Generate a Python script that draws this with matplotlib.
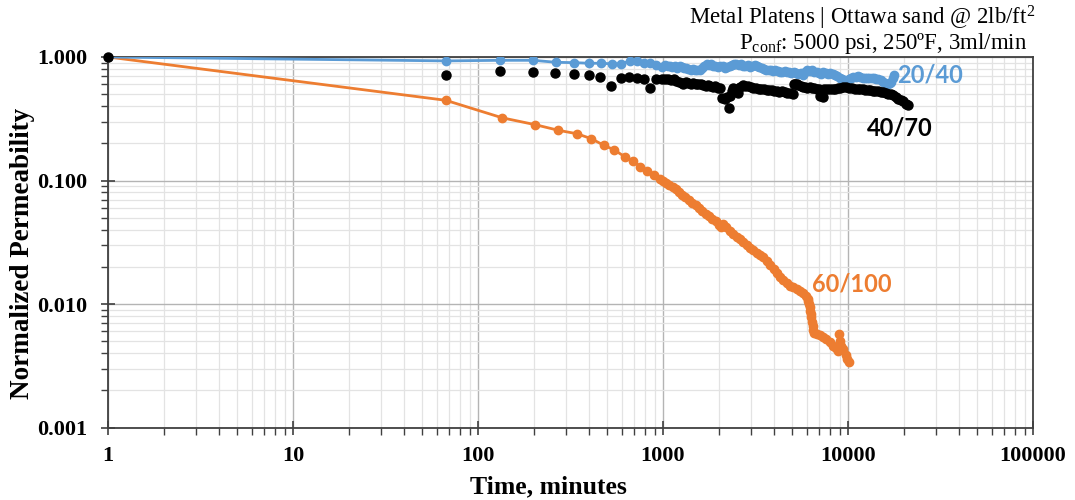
import matplotlib as mpl
mpl.use('Agg')
import matplotlib.pyplot as plt
from matplotlib.ticker import LogLocator, FixedLocator, FixedFormatter, NullFormatter

plt.rcParams['mathtext.fontset'] = 'custom'
plt.rcParams['mathtext.rm'] = 'Liberation Serif'
plt.rcParams['mathtext.it'] = 'Liberation Serif:italic'
plt.rcParams['mathtext.bf'] = 'Liberation Serif:bold'

# 20/40 sand (blue)
t_2040 = [1, 67, 132, 199, 264, 332, 398, 464, 530, 590, 661, 726, 787, 851, 917, 991,
          1030, 1060, 1090, 1120, 1160, 1190, 1230, 1260, 1300, 1330, 1370, 1410, 1450, 1490,
          1530, 1580, 1620, 1670, 1720, 1770, 1820, 1870, 1920, 1980, 2040, 2100, 2160, 2220,
          2290, 2350, 2420, 2490, 2560, 2640, 2710, 2790, 2870, 2960, 3040, 3130, 3220, 3310,
          3410, 3510, 3610, 3720, 3820, 3930, 4050, 4160, 4280, 4410, 4540, 4670, 4800, 4940,
          5090, 5230, 5390, 5540, 5700, 5870, 6040, 6210, 6390, 6580, 6770, 6960, 7170, 7370,
          7590, 7810, 8030, 8270, 8510, 8750, 9010, 9270, 9540, 9810, 10100, 10400, 10700,
          11000, 11300, 11600, 12000, 12300, 12700, 13000, 13400, 13800, 14200, 14600, 15000,
          15500, 15900, 16400, 16800, 17100, 17400, 17700]
k_2040 = [1.0, 0.93, 0.94, 0.94, 0.906, 0.90, 0.89, 0.89, 0.88, 0.88, 0.928, 0.93, 0.89, 0.89, 0.86, 0.83,
          0.86, 0.84, 0.85, 0.83, 0.84, 0.82, 0.84, 0.83, 0.81, 0.82, 0.80, 0.79, 0.80, 0.78,
          0.79, 0.79, 0.82, 0.85, 0.87, 0.86, 0.88, 0.85, 0.84, 0.83, 0.85, 0.84, 0.82, 0.83,
          0.85, 0.86, 0.87, 0.88, 0.86, 0.87, 0.85, 0.84, 0.86, 0.83, 0.85, 0.86, 0.84, 0.83,
          0.81, 0.80, 0.79, 0.79, 0.78, 0.77, 0.78, 0.77, 0.76, 0.76, 0.77, 0.75, 0.76, 0.74,
          0.75, 0.74, 0.73, 0.74, 0.72, 0.76, 0.78, 0.77, 0.79, 0.75, 0.76, 0.74, 0.73, 0.75,
          0.74, 0.73, 0.74, 0.73, 0.72, 0.70, 0.68, 0.66, 0.65, 0.64, 0.66, 0.67, 0.69,
          0.69, 0.70, 0.69, 0.68, 0.68, 0.67, 0.67, 0.68, 0.67, 0.66, 0.66, 0.65,
          0.63, 0.62, 0.61, 0.62, 0.63, 0.67, 0.71]

# 40/70 sand (black, markers only)
t_4070 = [1, 67, 132, 199, 262, 330, 396, 459, 522, 594, 655, 720, 787, 851, 917, 991,
          1030, 1060, 1100, 1140, 1180, 1220, 1260, 1290, 1330, 1370, 1410, 1460, 1500, 1550,
          1600, 1650, 1700, 1750, 1800, 1860, 1920, 1980, 2040, 2080, 2150, 2210, 2260, 2300,
          2350, 2400, 2470, 2550, 2620, 2700, 2790, 2880, 2980, 3080, 3180, 3290, 3400, 3510,
          3630, 3750, 3870, 4000, 4120, 4260, 4400, 4550, 4700, 4860, 5020, 5100, 5180, 5270,
          5400, 5540, 5700, 5870, 6040, 6210, 6390, 6580, 6770, 6960, 7100, 7320, 7450, 7700,
          7950, 8290, 8550, 8800, 9100, 9400, 9800, 10100, 10500, 10900, 11300, 11600, 12000,
          12400, 12800, 13200, 13600, 14000, 14500, 15000, 15500, 16000, 16500, 17000, 17500,
          18100, 18700, 19300, 19900, 20500, 21000]
k_4070 = [1.0, 0.71, 0.775, 0.756, 0.738, 0.728, 0.71, 0.685, 0.586, 0.676, 0.685, 0.676, 0.66, 0.558, 0.66, 0.66,
          0.66, 0.66, 0.65, 0.66, 0.64, 0.63, 0.62, 0.61, 0.63, 0.62, 0.61, 0.62, 0.60, 0.61,
          0.60, 0.59, 0.58, 0.59, 0.58, 0.57, 0.58, 0.56, 0.56, 0.463, 0.455, 0.47, 0.389, 0.48,
          0.53, 0.56, 0.55, 0.51, 0.575, 0.59, 0.58, 0.58, 0.57, 0.56, 0.56, 0.555, 0.55, 0.55,
          0.545, 0.54, 0.54, 0.535, 0.53, 0.525, 0.53, 0.52, 0.51, 0.51, 0.505, 0.61, 0.60, 0.61,
          0.59, 0.58, 0.575, 0.575, 0.565, 0.57, 0.56, 0.56, 0.555, 0.555, 0.48, 0.477, 0.555, 0.55,
          0.55, 0.555, 0.55, 0.56, 0.565, 0.57, 0.575, 0.56, 0.56, 0.55, 0.555, 0.55, 0.55,
          0.545, 0.54, 0.54, 0.535, 0.53, 0.53, 0.52, 0.52, 0.51, 0.50, 0.50, 0.49,
          0.47, 0.46, 0.45, 0.44, 0.42, 0.41]

# 60/100 sand (orange)
t_60100 = [1, 67, 135, 204, 272, 343, 410, 478, 545, 620, 688, 755, 824, 890, 964,
           1000, 1040, 1080, 1130, 1170, 1220, 1270, 1320, 1380, 1440, 1500, 1560, 1630, 1700,
           1770, 1850, 1930, 2010, 2050, 2120, 2200, 2300, 2400, 2500, 2610, 2720, 2840, 2960,
           3080, 3210, 3350, 3490, 3640, 3800, 3960, 4130, 4300, 4480, 4660, 4860, 5060, 5280,
           5490, 5700, 5910, 6050, 6100, 6160, 6200, 6250, 6290, 6340, 6390, 6440, 6480, 6530,
           6800, 7030, 7300, 7630, 7950, 8290, 8600, 8800, 8900, 9000, 9150, 9400, 9700, 9900, 10100]
k_60100 = [1.0, 0.446, 0.322, 0.283, 0.255, 0.239, 0.218, 0.193, 0.177, 0.156, 0.145, 0.129, 0.119, 0.110, 0.102,
           0.100, 0.095, 0.092, 0.089, 0.085, 0.080, 0.076, 0.073, 0.069, 0.066, 0.063, 0.060, 0.057, 0.054,
           0.052, 0.049, 0.047, 0.044, 0.042, 0.0445, 0.042, 0.039, 0.037, 0.035, 0.0335, 0.032, 0.030, 0.0285,
           0.0274, 0.026, 0.0248, 0.0239, 0.0225, 0.0208, 0.0192, 0.0178, 0.0166, 0.0155, 0.0147, 0.0141, 0.0138, 0.0133,
           0.0128, 0.0122, 0.0117, 0.0110, 0.0105, 0.0100, 0.0094, 0.0088, 0.0083, 0.0078, 0.0072, 0.0066, 0.0062, 0.0058,
           0.0057, 0.0056, 0.0054, 0.0052, 0.0049, 0.0046, 0.0044, 0.0042, 0.0057, 0.0050, 0.0046, 0.0043, 0.0039, 0.0036, 0.0034]

x_ticks = [1, 10, 100, 1000, 10000, 100000]
x_labels = ['1', '10', '100', '1000', '10000', '100000']
y_ticks = [0.001, 0.01, 0.1, 1.0]
y_labels = ['0.001', '0.010', '0.100', '1.000']

blue = '#5B9BD5'
orange = '#ED7D31'

fig = plt.figure(figsize=(10.75, 5.0), dpi=100)
ax = fig.add_axes([108/1075, 1 - 427.5/500, 925/1075, 370.5/500])
ax.set_xscale('log')
ax.set_yscale('log')
ax.set_xlim(1, 100000)
ax.set_ylim(0.001, 1.0)

ax.plot(t_2040, k_2040, '-o', color=blue, lw=2, ms=6, zorder=4)
ax.plot(t_4070, k_4070, 'o', color='black', ms=6.5, zorder=5, clip_on=False)
ax.plot(t_60100, k_60100, '-o', color=orange, lw=2, ms=6, zorder=3)

ax.xaxis.set_major_locator(FixedLocator(x_ticks))
ax.xaxis.set_major_formatter(FixedFormatter(x_labels))
ax.yaxis.set_major_locator(FixedLocator(y_ticks))
ax.yaxis.set_major_formatter(FixedFormatter(y_labels))
ax.xaxis.set_minor_locator(LogLocator(base=10, subs=range(2, 10), numticks=20))
ax.yaxis.set_minor_locator(LogLocator(base=10, subs=range(2, 10), numticks=20))
ax.xaxis.set_minor_formatter(NullFormatter())
ax.yaxis.set_minor_formatter(NullFormatter())

ax.grid(True, which='major', color='#B4B4B4', lw=1.0, zorder=0)
ax.grid(True, which='minor', color='#E3E3E3', lw=0.9, zorder=0)
ax.set_axisbelow(True)

for s in ax.spines.values():
    s.set_color('#404040')
    s.set_linewidth(1.3)

ax.tick_params(which='major', direction='inout', length=10, width=1.2, color='#404040')
ax.tick_params(which='minor', direction='out', length=5, width=1.0, color='#404040')
for lab in ax.get_xticklabels() + ax.get_yticklabels():
    lab.set_fontfamily('Liberation Serif')
    lab.set_fontweight('bold')
    lab.set_fontsize(16)
ax.tick_params(axis='y', pad=10)
ax.tick_params(axis='x', pad=8)

fig.text(548/1075, 1 - 487/500, 'Time, minutes', ha='center', va='center',
         family='Liberation Serif', weight='bold', fontsize=18.5)
fig.text(23/1075, 1 - 253/500, 'Normalized Permeability', ha='center', va='center', rotation=90,
         family='Liberation Serif', weight='bold', fontsize=19.5)

fig.text(1035/1075, 1 - 25/500, r'Metal Platens | Ottawa sand @ 2lb/ft$^{2}$', ha='right', va='baseline',
         family='Liberation Serif', fontsize=16.5)
fig.text(1027/1075, 1 - 49/500, r'P$_{\mathrm{conf}}$: 5000 psi, 250ºF, 3ml/min', ha='right', va='baseline',
         family='Liberation Serif', fontsize=16.5)

ax.text(0.853, 0.951, '20/40', transform=ax.transAxes, color=blue, ha='left', va='center',
        family='Lato', weight='bold', fontsize=17)
ax.text(0.8205, 0.808, '40/70', transform=ax.transAxes, color='black', ha='left', va='center',
        family='Lato', weight='bold', fontsize=17)
ax.text(0.761, 0.387, '60/100', transform=ax.transAxes, color=orange, ha='left', va='center',
        family='Lato', weight='bold', fontsize=17)

plt.savefig('out.png', dpi=100)
